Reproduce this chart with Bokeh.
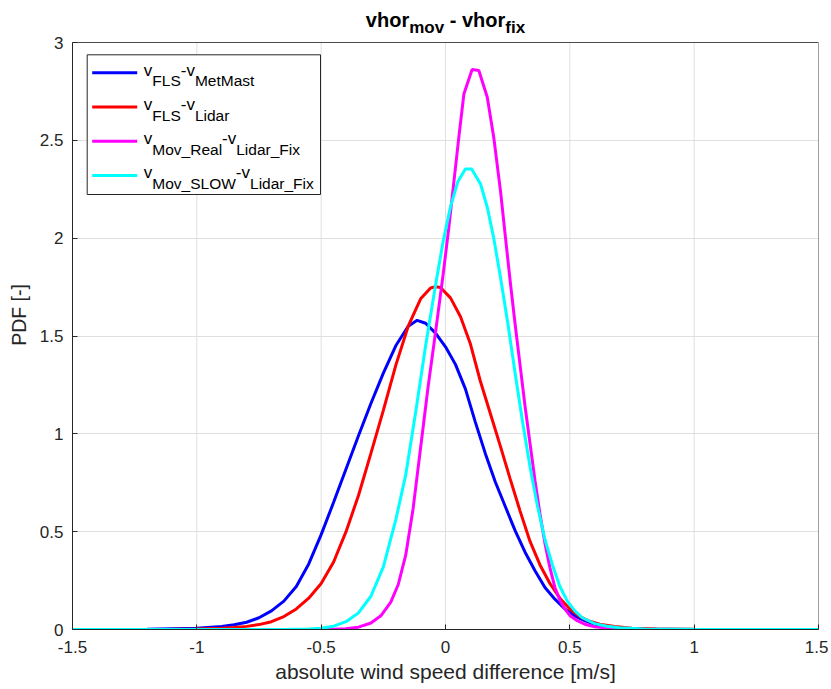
from bokeh.plotting import figure
from bokeh.models import Range1d, Label, BoxAnnotation, FixedTicker
from bokeh.embed import file_html
from bokeh.resources import INLINE

# ---------------- data ----------------
x_metmast = [-1.5, -1.2, -1.0, -0.9, -0.85, -0.8, -0.75, -0.7, -0.65, -0.6, -0.55, -0.5, -0.45,
             -0.4, -0.35, -0.3, -0.25, -0.2, -0.15, -0.114, -0.08, -0.04, 0.0, 0.04, 0.08, 0.12,
             0.16, 0.2, 0.24, 0.28, 0.32, 0.36, 0.4, 0.44, 0.48, 0.52, 0.56, 0.6, 0.65, 0.7,
             0.8, 1.0, 1.5]
pdf_metmast = [0.0, 0.001, 0.007, 0.015, 0.024, 0.037, 0.06, 0.095, 0.145, 0.22, 0.335, 0.485, 0.65,
               0.82, 0.99, 1.155, 1.31, 1.45, 1.55, 1.58, 1.565, 1.515, 1.445, 1.355, 1.23, 1.06,
               0.9, 0.755, 0.63, 0.505, 0.395, 0.3, 0.215, 0.155, 0.105, 0.07, 0.045, 0.027, 0.014, 0.007,
               0.002, 0.0, 0.0]

x_lidar = [-1.5, -1.1, -1.0, -0.9, -0.85, -0.8, -0.75, -0.7, -0.65, -0.6, -0.55, -0.5, -0.45,
           -0.4, -0.35, -0.3, -0.25, -0.2, -0.15, -0.1, -0.06, -0.04, -0.02, 0.02, 0.06, 0.1,
           0.14, 0.18, 0.22, 0.26, 0.3, 0.34, 0.38, 0.42, 0.46, 0.5, 0.54, 0.58, 0.62, 0.68,
           0.75, 0.85, 1.0, 1.5]
pdf_lidar = [0.0, 0.001, 0.002, 0.006, 0.01, 0.016, 0.025, 0.04, 0.066, 0.105, 0.16, 0.235, 0.345,
             0.5, 0.685, 0.9, 1.12, 1.35, 1.55, 1.69, 1.745, 1.752, 1.748, 1.695, 1.6, 1.46,
             1.27, 1.105, 0.94, 0.77, 0.605, 0.45, 0.33, 0.235, 0.16, 0.105, 0.066, 0.042, 0.027, 0.015,
             0.007, 0.003, 0.001, 0.0]

x_mov_real = [-1.5, -0.6, -0.45, -0.4, -0.35, -0.3, -0.26, -0.22, -0.19, -0.16, -0.13, -0.1,
              -0.07, -0.04, -0.01, 0.013, 0.033, 0.054, 0.074, 0.107, 0.134, 0.168, 0.194,
              0.221, 0.241, 0.261, 0.28, 0.3, 0.32, 0.34, 0.36, 0.38, 0.4, 0.42, 0.44, 0.46,
              0.48, 0.5, 0.53, 0.56, 0.6, 0.65, 0.7, 0.8, 1.0, 1.5]
pdf_mov_real = [0.0, 0.0, 0.001, 0.004, 0.012, 0.033, 0.07, 0.14, 0.23, 0.38, 0.62, 0.93,
                1.24, 1.52, 1.81, 2.05, 2.28, 2.52, 2.737, 2.862, 2.857, 2.72, 2.516,
                2.243, 2.005, 1.77, 1.56, 1.35, 1.14, 0.95, 0.76, 0.59, 0.44, 0.315, 0.215, 0.15,
                0.105, 0.072, 0.045, 0.027, 0.014, 0.007, 0.003, 0.001, 0.0, 0.0]

x_mov_slow = [-1.5, -0.65, -0.55, -0.5, -0.45, -0.4, -0.35, -0.3, -0.25, -0.2, -0.16, -0.12,
              -0.08, -0.04, -0.01, 0.02, 0.05, 0.08, 0.105, 0.141, 0.168, 0.194, 0.221, 0.25,
              0.28, 0.31, 0.34, 0.37, 0.4, 0.43, 0.46, 0.49, 0.52, 0.55, 0.6, 0.65, 0.7, 0.8,
              1.0, 1.5]
pdf_mov_slow = [0.0, 0.0, 0.002, 0.006, 0.017, 0.04, 0.085, 0.17, 0.32, 0.56, 0.79, 1.11,
                1.45, 1.76, 1.98, 2.16, 2.29, 2.354, 2.354, 2.277, 2.158, 2.0, 1.8, 1.57,
                1.31, 1.06, 0.83, 0.63, 0.46, 0.33, 0.22, 0.145, 0.095, 0.06, 0.03, 0.017, 0.009, 0.003,
                0.001, 0.0]

x_ticks = [-1.5, -1.0, -0.5, 0.0, 0.5, 1.0, 1.5]
x_tick_labels = ["-1.5", "-1", "-0.5", "0", "0.5", "1", "1.5"]
y_ticks = [0.0, 0.5, 1.0, 1.5, 2.0, 2.5, 3.0]
y_tick_labels = ["0", "0.5", "1", "1.5", "2", "2.5", "3"]

# (text, is_subscript, leading gap in em of the main size)
title_parts = [("vhor", False, 0.0), ("mov", True, 0.0), ("- vhor", False, 0.278), ("fix", True, 0.0)]
legend_parts = [
    [("v", False), ("FLS", True), ("-v", False), ("MetMast", True)],
    [("v", False), ("FLS", True), ("-v", False), ("Lidar", True)],
    [("v", False), ("Mov_Real", True), ("-v", False), ("Lidar_Fix", True)],
    [("v", False), ("Mov_SLOW", True), ("-v", False), ("Lidar_Fix", True)],
]
series_colors = ["#0000ff", "#ff0000", "#ff00ff", "#00ffff"]
series_x = [x_metmast, x_lidar, x_mov_real, x_mov_slow]
series_y = [pdf_metmast, pdf_lidar, pdf_mov_real, pdf_mov_slow]

# ---------------- layout (window pixels) ----------------
FONT = "Liberation Sans"
TXT = "#262626"
FL, FT, FW, FH = 72, 42, 746, 587      # axes box: left/top in window px, size
BR = 10                                # right border
XR = (-1.5, 1.5)
YR = (0.0, 3.0)
Y_TOP = YR[1] + FT / FH * (YR[1] - YR[0])   # plot frame reaches the window top (room for the title)


def px2x(wx):
    return XR[0] + (wx - FL) / FW * (XR[1] - XR[0])


def py2y(wy):
    return YR[1] - (wy - FT) / FH * (YR[1] - YR[0])


# Arial / Liberation Sans advance widths (em/1000)
W_REG = {" ": 278, "-": 333, "_": 556, "F": 611, "L": 556, "S": 667, "M": 833, "R": 722,
         "W": 944, "O": 778, "a": 556, "d": 556, "e": 556, "i": 222, "l": 222, "o": 556,
         "r": 333, "s": 500, "t": 278, "v": 500, "x": 500, "m": 833, "h": 556, "f": 278}
W_BOLD = {" ": 278, "-": 333, "v": 556, "h": 611, "o": 611, "r": 389, "m": 889, "f": 333,
          "i": 278, "x": 556}
MID = 0.3465   # baseline -> middle of text box, in em


def text_w(s, size, bold=False):
    tbl = W_BOLD if bold else W_REG
    return sum(tbl.get(c, 556) for c in s) / 1000.0 * size


p = figure(title=None, frame_width=FW, frame_height=FH + FT,
           x_range=Range1d(*XR), y_range=Range1d(YR[0], Y_TOP),
           output_backend="svg", toolbar_location=None,
           min_border_left=FL, min_border_right=BR, min_border_top=0, min_border_bottom=58)
p.background_fill_color = "white"
p.border_fill_color = "white"
p.outline_line_color = None

for ax, ticks, labels in ((p.xaxis[0], x_ticks, x_tick_labels), (p.yaxis[0], y_ticks, y_tick_labels)):
    ax.ticker = FixedTicker(ticks=ticks)
    ax.major_label_overrides = {t: l for t, l in zip(ticks, labels)}
    ax.major_tick_in = 5
    ax.major_tick_out = 0
    ax.minor_tick_line_color = None
    ax.axis_line_color = TXT
    ax.major_tick_line_color = TXT
    ax.major_label_text_font = FONT
    ax.major_label_text_font_size = "17px"
    ax.major_label_text_color = TXT
    ax.axis_label_text_font = FONT
    ax.axis_label_text_font_style = "normal"
    ax.axis_label_text_color = TXT
p.yaxis.bounds = YR

p.xaxis.axis_label = "absolute wind speed difference [m/s]"
p.yaxis.axis_label = "PDF [-]"
p.xaxis.axis_label_text_font_size = "21px"
p.yaxis.axis_label_text_font_size = "19.5px"
p.xaxis.major_label_standoff = 11
p.xaxis.axis_label_standoff = 4
p.yaxis.major_label_standoff = 9
p.yaxis.axis_label_standoff = 7

# grid: horizontal lines from the axis grid, vertical lines bounded to the axes box
GRID = "#dfdfdf"
p.ygrid.grid_line_color = GRID
p.xgrid.visible = False
p.segment(x0=x_ticks, y0=[YR[0]] * len(x_ticks), x1=x_ticks, y1=[YR[1]] * len(x_ticks),
          line_color=GRID, line_width=1, level="underlay")

for xs, ys, c in zip(series_x, series_y, series_colors):
    p.line(xs, ys, line_color=c, line_width=3)

# top and right edges of the axes box
p.line([XR[0], XR[1], XR[1]], [YR[1], YR[1], YR[0]], line_color=TXT, line_width=1, line_alpha=0.8)

# ---------------- title with subscripts ----------------
T_MAIN, T_SUB = 20, 17
tw = sum(text_w(s, T_SUB if sub else T_MAIN, True) + gap * T_MAIN for s, sub, gap in title_parts)
wx = FL + FW / 2 - tw / 2
for s, sub, gap in title_parts:
    size = T_SUB if sub else T_MAIN
    wx += gap * T_MAIN
    base = 33 if sub else 26
    p.add_layout(Label(x=px2x(wx), y=py2y(base - MID * size), text=s, text_font=FONT,
                       text_font_size=f"{size}px", text_font_style="bold",
                       text_color="#000000", text_baseline="middle", text_align="left"))
    wx += text_w(s, size, True)

# ---------------- legend ----------------
p.add_layout(BoxAnnotation(left=px2x(86.7), right=px2x(320), top=py2y(54.3), bottom=py2y(194),
                           fill_color="white", fill_alpha=1.0, line_color=TXT, line_alpha=1.0,
                           line_width=1, level="annotation"))
L_MAIN, L_SUB = 17, 15.5
ROW0, ROWSTEP = 72.3, 34.2
for i, (parts, c) in enumerate(zip(legend_parts, series_colors)):
    ry = ROW0 + i * ROWSTEP
    p.line([px2x(91.7), px2x(136.7)], [py2y(ry), py2y(ry)], line_color=c, line_width=3,
           level="overlay")
    wx = 143.3
    for s, sub in parts:
        size = L_SUB if sub else L_MAIN
        base = ry + (13.4 if sub else 3.4)
        p.add_layout(Label(x=px2x(wx), y=py2y(base - MID * size), text=s, text_font=FONT,
                           text_font_size=f"{size}px", text_color="#000000",
                           text_baseline="middle", text_align="left", level="overlay"))
        wx += text_w(s, size)

open("out.html", "w").write(file_html(p, INLINE))
